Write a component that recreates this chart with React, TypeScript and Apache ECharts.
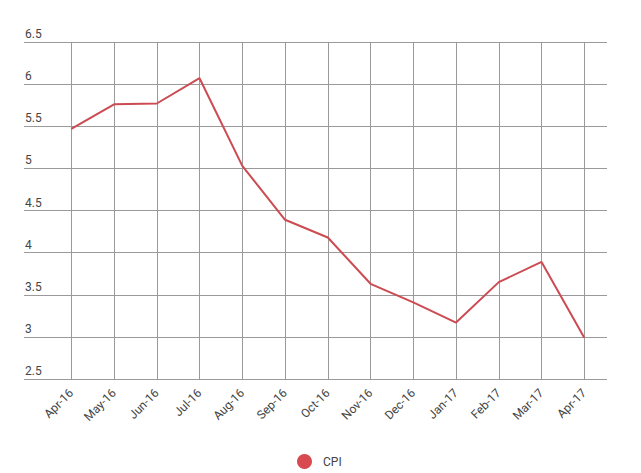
import React, { useEffect, useRef } from "react";
import * as echarts from "echarts";

const categories = ["Apr-16", "May-16", "Jun-16", "Jul-16", "Aug-16", "Sep-16", "Oct-16", "Nov-16", "Dec-16", "Jan-17", "Feb-17", "Mar-17", "Apr-17"];
const cpiValues = [5.47, 5.76, 5.77, 6.07, 5.03, 4.39, 4.18, 3.63, 3.41, 3.17, 3.65, 3.89, 2.99];
const seriesName = "CPI";
const yMin = 2.5;
const yMax = 6.5;
const yStep = 0.5;

export default function App() {
  const ref = useRef<HTMLDivElement>(null);
  useEffect(() => {
    document.body.style.margin = "0";
    const chart = echarts.init(ref.current!, null, { renderer: "svg" });
    const font = "Roboto, 'Noto Sans', sans-serif";
    chart.setOption({
      animation: false,
      textStyle: { fontFamily: font },
      grid: [
        { left: 24, right: 34, top: 42, bottom: 94 },
        { left: 71.3, right: 56.7, top: 42, bottom: 94 },
      ],
      xAxis: [
        { type: "value", gridIndex: 0, show: false, min: 0, max: 1 },
        {
          type: "category",
          gridIndex: 1,
          data: categories,
          boundaryGap: false,
          axisLine: { show: false },
          axisTick: { show: false },
          splitLine: { show: true, lineStyle: { color: "#9a9a9a", width: 1 } },
          axisLabel: { rotate: 45, margin: 12, fontSize: 12, color: "#444", fontFamily: font, interval: 0 },
        },
      ],
      yAxis: [
        {
          type: "value",
          gridIndex: 0,
          min: yMin,
          max: yMax,
          interval: yStep,
          axisLine: { show: false },
          axisTick: { show: false },
          splitLine: { show: true, lineStyle: { color: "#9a9a9a", width: 1 } },
          axisLabel: {
            inside: true,
            margin: 1,
            verticalAlign: "bottom",
            padding: [0, 0, 2, 0],
            fontSize: 12,
            color: "#444",
            fontFamily: font,
          },
        },
        { type: "value", gridIndex: 1, min: yMin, max: yMax, show: false },
      ],
      legend: {
        data: [seriesName],
        icon: "circle",
        itemWidth: 15,
        itemHeight: 15,
        left: 292,
        top: 449,
        textStyle: { fontSize: 12, color: "#444", fontFamily: font, padding: [0, 0, 0, 6] },
      },
      series: [
        {
          name: seriesName,
          type: "line",
          xAxisIndex: 1,
          yAxisIndex: 1,
          data: cpiValues,
          symbol: "none",
          color: "#d84a4f",
          lineStyle: { width: 2, color: "#cc4b52" },
        },
      ],
    });
    return () => chart.dispose();
  }, []);
  return <div ref={ref} style={{ width: 641, height: 473, position: "absolute", left: 0, top: 0 }} />;
}
